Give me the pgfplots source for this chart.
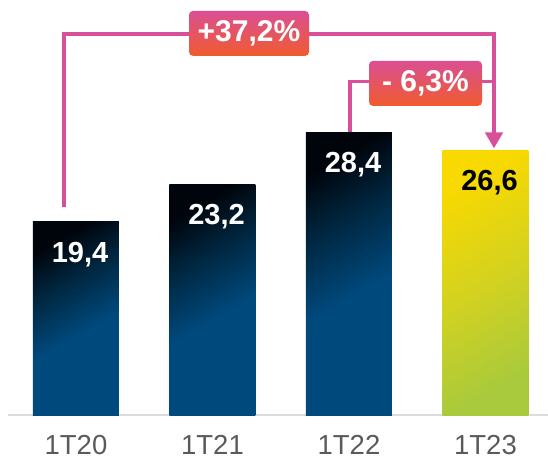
\documentclass[border=0pt]{standalone}
\usepackage{pgfplots}
\pgfplotsset{compat=1.18}
\usepackage{fontspec}
\setmainfont{Liberation Sans}
\usetikzlibrary{arrows.meta}
\definecolor{navyD}{HTML}{00050C}
\definecolor{navyM}{HTML}{00263F}
\definecolor{navyB}{HTML}{00497C}
\definecolor{yelT}{HTML}{F8D900}
\definecolor{yelM}{HTML}{D4D21F}
\definecolor{grnB}{HTML}{A8CA3C}
\definecolor{pinkL}{HTML}{D8509A}
\definecolor{boxT}{HTML}{DA4F93}
\definecolor{boxB}{HTML}{F05B2F}
\definecolor{axgray}{HTML}{DCDCDC}
\definecolor{lblgray}{HTML}{5A5A5A}
\pgfdeclareverticalshading{navyshade}{100bp}{color(0bp)=(navyB); color(25bp)=(navyB); color(45bp)=(navyB); color(62bp)=(navyM); color(75bp)=(navyD); color(100bp)=(navyD)}
\pgfdeclareverticalshading{yelshade}{100bp}{color(0bp)=(grnB); color(25bp)=(grnB); color(50bp)=(yelM); color(75bp)=(yelT); color(100bp)=(yelT)}
\begin{document}
\begin{tikzpicture}[x=1pt,y=1pt]
\begin{axis}[
  at={(8pt,44pt)}, anchor=south west,
  scale only axis, width=540pt, height=415pt,
  xmin=-0.498, xmax=3.458, ymin=0, ymax=41.71,
  hide y axis,
  axis x line*=bottom,
  x axis line style={color=axgray, line width=2pt},
  xtick={0,1,2,3}, xticklabels={1T20,1T21,1T22,1T23},
  major tick length=0pt,
  xticklabel style={anchor=base, yshift=-39.5pt, font=\fontsize{27.5}{29}\selectfont, text=lblgray, inner sep=0pt},
  ybar, bar width=86pt, bar shift=0pt,
  clip=false,
  nodes near coords={\pgfmathprintnumber[assume math mode=true,use comma,fixed,fixed zerofill,precision=1]{\pgfplotspointmeta}},
  nodes near coords style={anchor=base, yshift=-40.5pt, xshift=4pt, font=\fontsize{29}{30}\selectfont\bfseries},
]
\addplot[draw=none, shade, shading=navyshade, shading angle=30, nodes near coords style={text=white}] coordinates {(0,19.4)};
\addplot[draw=none, shade, shading=navyshade, shading angle=30, nodes near coords style={text=white}] coordinates {(1,23.2)};
\addplot[draw=none, shade, shading=navyshade, shading angle=30, nodes near coords style={text=white}] coordinates {(2,28.4)};
\addplot[draw=none, shade, shading=yelshade, shading angle=30, nodes near coords style={text=black}] coordinates {(3,26.6)};
\end{axis}
% annotations
\draw[pinkL, line width=3.5pt, -{Triangle[width=17.5pt,length=16pt]}] (64,252) -- (64,425) -- (494,425) -- (494,310.7);
\draw[pinkL, line width=3.5pt] (350,327.3) -- (350,377.3) -- (494,377.3);
\node[rounded corners=4pt, top color=boxT, bottom color=boxB, minimum width=120pt, minimum height=45pt, inner sep=0pt, text=white, font=\fontsize{30}{32}\selectfont\bfseries] at (249,425.6) {+37,2\%};
\node[rounded corners=4pt, top color=boxT, bottom color=boxB, minimum width=113pt, minimum height=45pt, inner sep=0pt, text=white, font=\fontsize{30}{32}\selectfont\bfseries] at (425.5,375.6) {- 6,3\%};
\pgfresetboundingbox
\path (0,0) rectangle (548,459);
\end{tikzpicture}
\end{document}
